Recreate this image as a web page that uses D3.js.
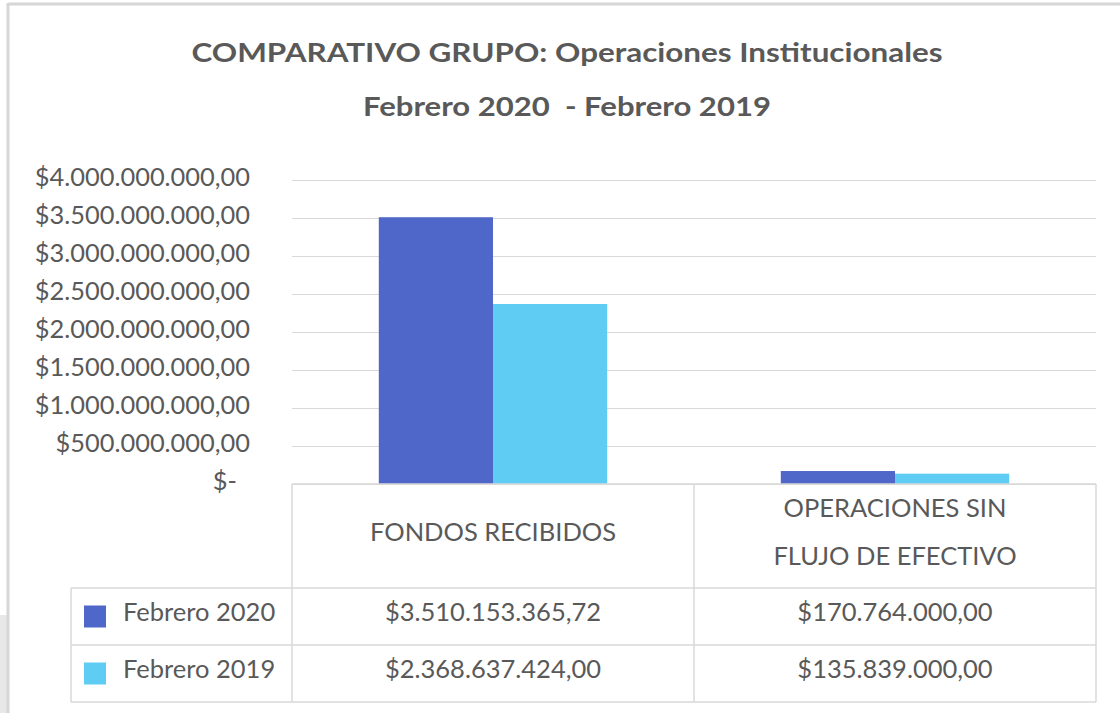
<!DOCTYPE html>
<html>
<head>
<meta charset="utf-8">
<script src="https://cdn.jsdelivr.net/npm/d3@7"></script>
<style>
  body { margin: 0; background: #fff; }
  svg { display: block; font-family: Lato, "Open Sans", sans-serif; }
</style>
</head>
<body>
<div id="chart"></div>
<script>
// Chart data
const categories = ['FONDOS RECIBIDOS', 'OPERACIONES SIN\nFLUJO DE EFECTIVO'];
const seriesNames = ['Febrero 2020', 'Febrero 2019'];
const feb2020 = [3510153365.72, 170764000];
const feb2019 = [2368637424, 135839000];
const yTicks = [0, 500000000, 1000000000, 1500000000, 2000000000, 2500000000, 3000000000, 3500000000, 4000000000];
const colors = ['#4f67c9', '#5fcdf3'];

const width = 1120;
const height = 713;

const locale = d3.formatLocale({ decimal: ',', thousands: '.', grouping: [3], currency: ['$', ''] });
const money = locale.format('$,.2f');

const margin = { left: 292, right: 1096, top: 180, bottom: 484 };
const textColor = '#595959';

const svg = d3.select('#chart')
  .append('svg')
  .attr('width', width)
  .attr('height', height);

// frame pieces
svg.append('rect').attr('x', 0).attr('y', 615).attr('width', 8).attr('height', 98).attr('fill', '#e8e8e8');
svg.append('line').attr('x1', 8).attr('x2', width).attr('y1', 4).attr('y2', 4)
  .attr('stroke', '#d6d6d6').attr('stroke-width', 3);
svg.append('line').attr('x1', 8).attr('x2', 8).attr('y1', 3).attr('y2', height)
  .attr('stroke', '#d6d6d6').attr('stroke-width', 3);

// Title (the original font is wider, so stretch to the measured width)
svg.append('text')
  .attr('x', 567).attr('y', 62)
  .attr('text-anchor', 'middle')
  .attr('font-size', 27).attr('font-weight', 'bold').attr('fill', textColor)
  .attr('textLength', 751).attr('lengthAdjust', 'spacingAndGlyphs')
  .text('COMPARATIVO GRUPO: Operaciones Institucionales');
svg.append('text')
  .attr('x', 567).attr('y', 116)
  .attr('text-anchor', 'middle')
  .attr('font-size', 27).attr('font-weight', 'bold').attr('fill', textColor)
  .attr('textLength', 408).attr('lengthAdjust', 'spacingAndGlyphs')
  .style('white-space', 'pre')
  .text('Febrero 2020  - Febrero 2019');

// Scales
const x0 = d3.scaleBand()
  .domain(categories)
  .range([margin.left, margin.right]);

const x1 = d3.scaleBand()
  .domain(seriesNames)
  .range([0, x0.bandwidth()])
  .paddingOuter(0.76)
  .paddingInner(0);

const y = d3.scaleLinear()
  .domain([0, 4000000000])
  .range([margin.bottom, margin.top]);

// Gridlines
svg.append('g')
  .selectAll('line')
  .data(yTicks)
  .enter()
  .append('line')
  .attr('x1', margin.left)
  .attr('x2', margin.right)
  .attr('y1', d => y(d) + 0.5)
  .attr('y2', d => y(d) + 0.5)
  .attr('stroke', '#d9d9d9')
  .attr('stroke-width', 1);

// Y axis labels
const yAxis = d3.axisLeft(y)
  .tickValues(yTicks)
  .tickSize(0)
  .tickPadding(0)
  .tickFormat(d => d === 0 ? '$-' : money(d));

const yAxisG = svg.append('g')
  .attr('transform', 'translate(250,0)')
  .call(yAxis);
yAxisG.select('.domain').remove();
yAxisG.selectAll('text')
  .attr('font-family', 'Lato, sans-serif')
  .attr('font-size', 25.4)
  .attr('fill', textColor)
  .attr('dy', '0.2em')
  .attr('dx', d => d === 0 ? -13 : 0);

// Bars
const seriesData = [feb2020, feb2019];
const barGroups = svg.append('g')
  .selectAll('g')
  .data(categories)
  .enter()
  .append('g')
  .attr('transform', d => `translate(${x0(d)},0)`);

barGroups.selectAll('rect')
  .data((d, i) => seriesNames.map((s, j) => ({ series: s, value: seriesData[j][i], color: colors[j] })))
  .enter()
  .append('rect')
  .attr('x', d => x1(d.series))
  .attr('width', x1.bandwidth())
  .attr('y', d => y(d.value))
  .attr('height', d => y(0) - y(d.value))
  .attr('fill', d => d.color);

// Data table
const tableLeft = 71;
const headerBottom = 588;
const rowH = 57;
const tableBottom = headerBottom + rowH * seriesNames.length;
const border = '#d9d9d9';
const tbl = svg.append('g').attr('stroke', border).attr('stroke-width', 1.5).attr('fill', 'none');

const colEdges = [margin.left, x0(categories[1]), margin.right];
colEdges.forEach(cx => {
  tbl.append('line').attr('x1', cx).attr('x2', cx).attr('y1', margin.bottom).attr('y2', tableBottom);
});
tbl.append('line').attr('x1', margin.left).attr('x2', margin.right).attr('y1', margin.bottom).attr('y2', margin.bottom);
tbl.append('line').attr('x1', tableLeft).attr('x2', tableLeft).attr('y1', headerBottom).attr('y2', tableBottom);
[headerBottom, headerBottom + rowH, tableBottom].forEach(ry => {
  tbl.append('line').attr('x1', tableLeft).attr('x2', margin.right).attr('y1', ry).attr('y2', ry);
});

// header labels
const headerMid = (margin.bottom + headerBottom) / 2;
categories.forEach(c => {
  const lines = c.split('\n');
  const t = svg.append('text')
    .attr('text-anchor', 'middle')
    .attr('font-size', 25.5)
    .attr('fill', textColor);
  lines.forEach((ln, k) => {
    t.append('tspan')
      .attr('x', x0(c) + x0.bandwidth() / 2)
      .attr('y', headerMid + (k - (lines.length - 1) / 2) * 48 + 5)
      .text(ln);
  });
});

// rows
seriesNames.forEach((s, j) => {
  const rowMid = headerBottom + rowH * j + rowH / 2;
  svg.append('rect')
    .attr('x', 84).attr('y', rowMid - 11)
    .attr('width', 22).attr('height', 22)
    .attr('fill', colors[j]);
  svg.append('text')
    .attr('x', 123).attr('y', rowMid + 4)
    .attr('font-size', 25.5).attr('fill', textColor)
    .text(s);
  categories.forEach((c, i) => {
    svg.append('text')
      .attr('x', x0(c) + x0.bandwidth() / 2)
      .attr('y', rowMid + 4)
      .attr('text-anchor', 'middle')
      .attr('font-size', 25.5).attr('fill', textColor)
      .text(money(seriesData[j][i]));
  });
});
</script>
</body>
</html>
